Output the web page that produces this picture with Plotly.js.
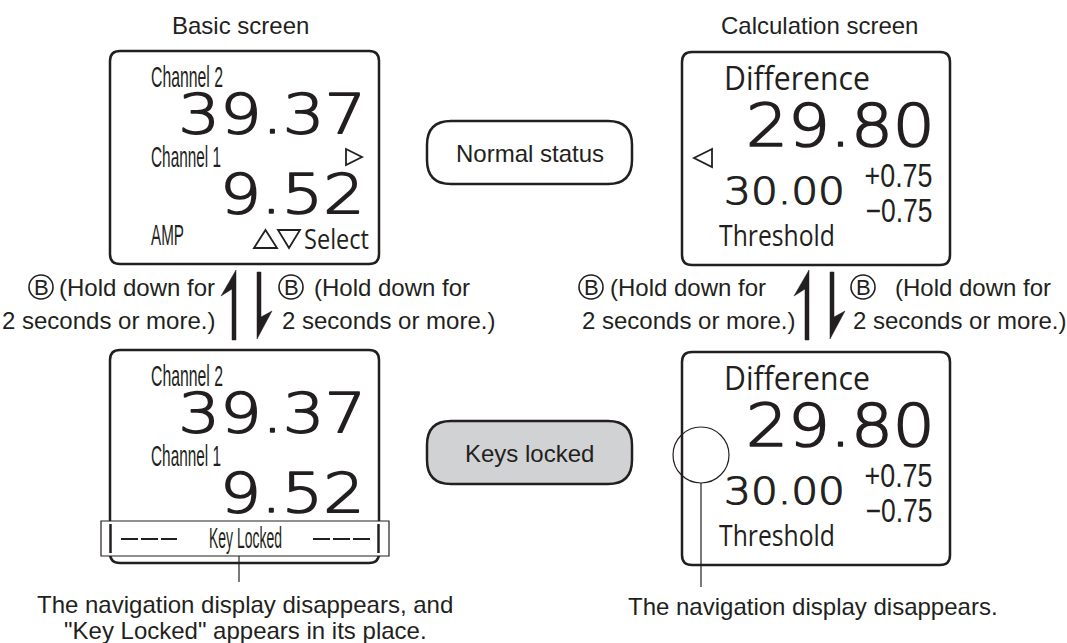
<!DOCTYPE html>
<html><head><meta charset="utf-8">
<script src="https://cdn.plot.ly/plotly-3.0.1.min.js"></script>
<style>html,body{margin:0;padding:0;background:#fff;} #chart{width:1067px;height:643px;}</style>
</head><body><div id="chart"></div>
<script>
// ---- content (text only) ----
const screenTitles = ["Basic screen", "Calculation screen"];
const channelLabels = ["Channel 2", "Channel 1"];
const channelValues = ["39.37", "9.52"];
const modeLabel = "AMP";
const selectLabel = "Select";
const lockedLabel = "Key Locked";
const calcLabel = "Difference";
const calcValue = "29.80";
const thresholdValue = "30.00";
const toleranceValues = ["+0.75", "\u22120.75"];
const thresholdLabel = "Threshold";
const statusLabels = ["Normal status", "Keys locked"];
const keyName = "B";
const holdLines = ["(Hold down for", "2 seconds or more.)"];
const noteLeft = ["The navigation display disappears, and", "\"Key Locked\" appears in its place."];
const noteRight = ["The navigation display disappears."];

// ---- styles ----
const INK = '#231f20';
const ARIAL = 'Liberation Sans, Arial, sans-serif';
const NARROW = 'Liberation Sans Narrow, Liberation Sans, sans-serif';
const MYRIAD = 'Open Sans, Noto Sans, sans-serif';
const DIGITS = 'DejaVu Sans, Verdana, sans-serif';

const ann = [];
const fit = [];
const thick = [];
function txt(x, y, text, size, family, anchor, w, weight, stroke) {
  const f = {family: family, size: size, color: INK};
  if (weight) f.weight = weight;
  ann.push({x: x, y: y, xref: 'x', yref: 'y', text: text, showarrow: false,
    xanchor: anchor || 'center', yanchor: 'middle', font: f});
  fit.push(w || 0);
  thick.push(stroke || 0);
}
const shapes = [];
function rrect(x0, y0, x1, y1, r, fill, lw) {
  const p = `M${x0 + r},${y0} L${x1 - r},${y0} Q${x1},${y0} ${x1},${y0 + r} L${x1},${y1 - r} Q${x1},${y1} ${x1 - r},${y1} L${x0 + r},${y1} Q${x0},${y1} ${x0},${y1 - r} L${x0},${y0 + r} Q${x0},${y0} ${x0 + r},${y0} Z`;
  shapes.push({type: 'path', xref: 'x', yref: 'y', path: p, fillcolor: fill || 'rgba(0,0,0,0)', line: {color: INK, width: lw}});
}
function poly(pts, fill, lw) {
  const p = 'M' + pts.map(q => q[0] + ',' + q[1]).join(' L') + ' Z';
  shapes.push({type: 'path', xref: 'x', yref: 'y', path: p,
    fillcolor: fill || 'rgba(0,0,0,0)', line: {color: INK, width: lw}});
}
function line(x0, y0, x1, y1, lw, dash) {
  shapes.push({type: 'line', xref: 'x', yref: 'y', x0: x0, y0: y0, x1: x1, y1: y1, line: {color: INK, width: lw, dash: dash || 'solid'}});
}
function circ(cx, cy, r, lw) {
  shapes.push({type: 'circle', xref: 'x', yref: 'y', x0: cx - r, x1: cx + r, y0: cy - r, y1: cy + r, line: {color: INK, width: lw}});
}

// titles
txt(240, 25, screenTitles[0], 24, ARIAL);
txt(819, 25, screenTitles[1], 24, ARIAL);

// basic screen
function basicScreen(X, Y, locked) {
  rrect(X, Y, X + 269, Y + 213, 10, '#ffffff', 2.5);
  txt(X + 39, Y + 25, channelLabels[0], 30, NARROW, 'left', 72);
  txt(X + 258, Y + 62, channelValues[0], 56, DIGITS, 'right', 188, 200, 1.6);
  txt(X + 39, Y + 105, channelLabels[1], 30, NARROW, 'left', 70);
  txt(X + 257, Y + 142, channelValues[1], 56, DIGITS, 'right', 145, 200, 1.6);
  if (!locked) {
    poly([[X + 236, Y + 98], [X + 252, Y + 106], [X + 236, Y + 114]], null, 1.8);
    txt(X + 39, Y + 183, modeLabel, 30, NARROW, 'left', 33);
    poly([[X + 144, Y + 197], [X + 155.5, Y + 179], [X + 167, Y + 197]], null, 1.8);
    poly([[X + 168, Y + 179], [X + 190, Y + 179], [X + 179, Y + 197]], null, 1.8);
    txt(X + 192, Y + 187, selectLabel, 28, MYRIAD, 'left', 65);
  } else {
    shapes.push({type: 'rect', xref: 'x', yref: 'y', x0: X - 9, x1: X + 279, y0: Y + 171, y1: Y + 206, fillcolor: '#ffffff', line: {color: INK, width: 1.2}});
    line(X + 0.5, Y + 174, X + 0.5, Y + 203, 2.5);
    line(X + 268.5, Y + 174, X + 268.5, Y + 203, 2.5);
    line(X + 11, Y + 189, X + 67, Y + 189, 2, '17px,3px');
    line(X + 203, Y + 189, X + 260, Y + 189, 2, '17px,3px');
    txt(X + 97, Y + 188, lockedLabel, 29, NARROW, 'left', 73);
  }
}
basicScreen(110, 51, false);
basicScreen(110, 350, true);

// calculation screen
function calcScreen(X, Y, locked) {
  rrect(X, Y, X + 268, Y + 213, 10, '#ffffff', 2.5);
  txt(X + 40, Y + 25, calcLabel, 32, MYRIAD, 'left', 146);
  txt(X + 255, Y + 73, calcValue, 59, DIGITS, 'right', 189, 200, 1.7);
  if (!locked) poly([[X + 30, Y + 97], [X + 12, Y + 106], [X + 30, Y + 115]], null, 1.8);
  txt(X + 40, Y + 139.5, thresholdValue, 37, DIGITS, 'left', 121, 200, 1.2);
  txt(X + 253, Y + 123.5, toleranceValues[0], 33, NARROW, 'right', 68);
  txt(X + 253, Y + 158, toleranceValues[1], 33, NARROW, 'right', 67);
  txt(X + 35, Y + 182, thresholdLabel, 30, MYRIAD, 'left', 116);
}
calcScreen(682, 52, false);
calcScreen(682, 352, true);

// status pills
rrect(427, 121, 632, 184, 24, '#ffffff', 2.5);
txt(529.5, 153, statusLabels[0], 24, ARIAL);
rrect(427, 421, 632, 484, 24, '#d1d2d4', 2.5);
txt(529.5, 453, statusLabels[1], 24, ARIAL);

// harpoon arrows
function arrows(dx) {
  poly([[236 + dx, 270], [221 + dx, 296], [232 + dx, 289], [232 + dx, 340], [236 + dx, 340]], INK, 0.5);
  poly([[257 + dx, 272], [261 + dx, 272], [261 + dx, 317], [272 + dx, 311], [257 + dx, 339]], INK, 0.5);
}
arrows(0);
arrows(573);

// hold labels
function keyCircle(cx, cy) {
  circ(cx, cy, 12, 1.6);
  txt(cx, cy + 0.5, keyName, 22, ARIAL);
}
keyCircle(41, 287);
txt(217, 287, holdLines[0], 24, ARIAL, 'right');
txt(217, 320, holdLines[1], 24, ARIAL, 'right');
keyCircle(291, 287);
txt(312, 287, holdLines[0], 24, ARIAL, 'left');
txt(280, 320, holdLines[1], 24, ARIAL, 'left');
keyCircle(591, 287);
txt(608, 287, holdLines[0], 24, ARIAL, 'left');
txt(580, 320, holdLines[1], 24, ARIAL, 'left');
keyCircle(863, 287);
txt(893, 287, holdLines[0], 24, ARIAL, 'left');
txt(851, 320, holdLines[1], 24, ARIAL, 'left');

// callouts
line(239, 556, 239, 582, 1.2);
txt(245, 604, noteLeft[0], 24, ARIAL);
txt(245, 630, noteLeft[1], 24, ARIAL);
circ(701, 455, 28, 1.2);
line(701, 483, 701, 587, 1.2);
txt(813, 606, noteRight[0], 24, ARIAL);

const layout = {
  width: 1067, height: 643,
  margin: {l: 0, r: 0, t: 0, b: 0, pad: 0},
  paper_bgcolor: '#ffffff', plot_bgcolor: '#ffffff',
  showlegend: false,
  xaxis: {range: [0, 1067], visible: false, fixedrange: true},
  yaxis: {range: [643, 0], visible: false, fixedrange: true},
  shapes: shapes,
  annotations: ann
};

Plotly.newPlot('chart', [], layout, {staticPlot: true, displayModeBar: false}).then(function (gd) {
  gd.querySelectorAll('g.annotation').forEach(function (g) {
    const i = +g.getAttribute('data-index');
    const t = g.querySelector('text.annotation-text');
    if (!t) return;
    if (thick[i]) {
      t.style.stroke = INK;
      t.style.strokeWidth = thick[i] + 'px';
      t.style.strokeLinejoin = 'round';
    }
    const w = fit[i];
    if (!w) return;
    const bb = t.getBBox();
    if (!bb.width) return;
    const s = w / bb.width;
    const a = ann[i].xanchor;
    const ox = a === 'left' ? bb.x : (a === 'right' ? bb.x + bb.width : bb.x + bb.width / 2);
    t.setAttribute('transform', 'translate(' + ox + ',0) scale(' + s + ',1) translate(' + (-ox) + ',0)');
  });
});
</script>
</body></html>
